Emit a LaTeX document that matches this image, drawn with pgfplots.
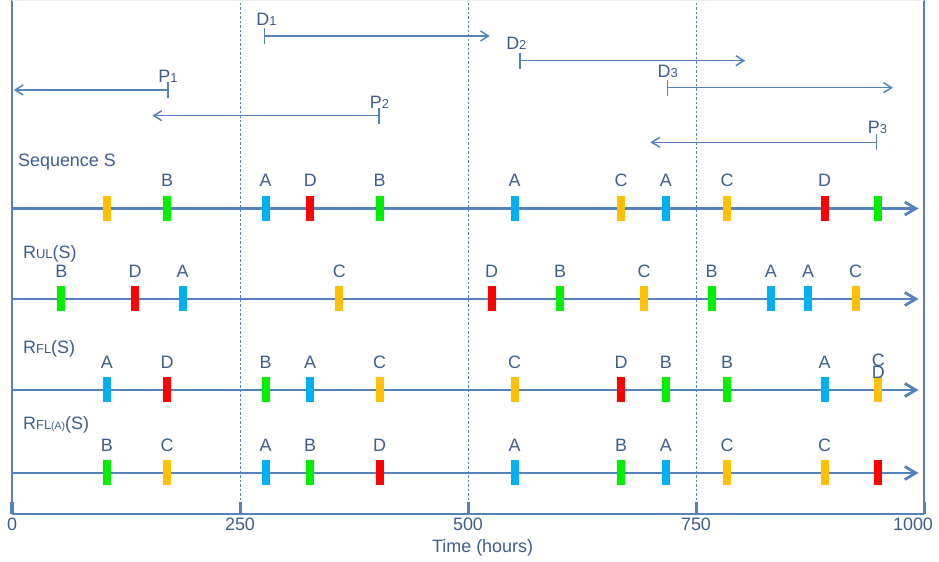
\documentclass[border=0pt]{standalone}
\usepackage{pgfplots}
\pgfplotsset{compat=1.18}
\usepackage{fontspec}
\setmainfont{Liberation Sans}
\usetikzlibrary{arrows.meta}
\definecolor{ln}{RGB}{84,130,190}
\definecolor{txt}{RGB}{62,92,140}
\definecolor{mA}{RGB}{0,176,240}
\definecolor{mB}{RGB}{0,240,0}
\definecolor{mC}{RGB}{255,192,0}
\definecolor{mD}{RGB}{255,0,0}
\newcommand{\fs}{\fontsize{18}{20}\selectfont}
\newcommand{\sm}{\fontsize{13}{14}\selectfont}
\newcommand{\ssm}{\fontsize{10.5}{12}\selectfont}
\tikzset{
  lab/.style={font=\fs, text=txt, anchor=base, inner sep=0pt},
  ttl/.style={font=\fs, text=txt, anchor=base west, inner sep=0pt},
}
\begin{document}
\begin{tikzpicture}
\useasboundingbox (0,0) rectangle (939bp,562bp);
\begin{axis}[
  at={(12bp,48bp)}, anchor=south west,
  scale only axis, width=912bp, height=514bp,
  xmin=0, xmax=1000, ymin=0, ymax=514,
  clip=false,
  axis x line*=bottom, axis y line*=box,
  axis line style={color=ln, line width=2.4bp},
  xtick={0,250,500,750,1000},
  xticklabels={0,250,500,750,\hspace*{-22bp}1000},
  ytick=\empty,
  tick align=inside, major tick length=12bp,
  xtick style={color=ln, line width=3bp},
  xmajorgrids, grid style={color=ln, line width=0.9bp, dash pattern=on 2.5bp off 2bp},
  xticklabel style={font=\fs, text=txt},
  /pgf/number format/assume math mode=true,
]
% faint top edge
\draw[color=ln!12, line width=1bp] (axis cs:0,513) -- (axis cs:1000,513);

% timelines
\addplot[color=ln, line width=2.8bp, -{Straight Barb[length=11bp,width=13bp]}] coordinates {(0,305.5) (994,305.5)};
\addplot[color=ln, line width=2.8bp, -{Straight Barb[length=11bp,width=13bp]}] coordinates {(0,215) (994,215)};
\addplot[color=ln, line width=2.8bp, -{Straight Barb[length=11bp,width=13bp]}] coordinates {(0,124) (994,124)};
\addplot[color=ln, line width=2.8bp, -{Straight Barb[length=11bp,width=13bp]}] coordinates {(0,41) (994,41)};

% event marks
\addplot[only marks, mark=|, mark size=12.5bp, color=mA, mark options={line width=8bp}] coordinates {
 (278,305.5) (551,305.5) (717,305.5)
 (187,215) (832,215) (873,215)
 (104,124) (327,124) (891,124)
 (278,41) (551,41) (717,41)};
\addplot[only marks, mark=|, mark size=12.5bp, color=mB, mark options={line width=8bp}] coordinates {
 (170,305.5) (403,305.5) (950,305.5)
 (54,215) (601,215) (767,215)
 (278,124) (717,124) (784,124)
 (104,41) (327,41) (668,41)};
\addplot[only marks, mark=|, mark size=12.5bp, color=mC, mark options={line width=8bp}] coordinates {
 (104,305.5) (668,305.5) (784,305.5)
 (359,215) (693,215) (925,215)
 (403,124) (551,124) (950,124)
 (170,41) (784,41) (891,41)};
\addplot[only marks, mark=|, mark size=12.5bp, color=mD, mark options={line width=8bp}] coordinates {
 (327,305.5) (891,305.5)
 (135,215) (526,215)
 (170,124) (668,124)
 (403,41) (950,41)};

% letter labels
\addplot[draw=none, mark=none, nodes near coords, point meta=explicit symbolic,
  nodes near coords style={font=\fs, text=txt, anchor=base, inner sep=0pt}]
 table[meta=l] {
x y l
170 327 B
278 327 A
327 327 D
403 327 B
551 327 A
668 327 C
717 327 A
784 327 C
891 327 D
54 236.5 B
135 236.5 D
187 236.5 A
359 236.5 C
526 236.5 D
601 236.5 B
693 236.5 C
767 236.5 B
832 236.5 A
873 236.5 A
925 236.5 C
104 145.5 A
170 145.5 D
278 145.5 B
327 145.5 A
403 145.5 C
551 145.5 C
668 145.5 D
717 145.5 B
784 145.5 B
891 145.5 A
950 147 C
950 135 D
104 62.5 B
170 62.5 C
278 62.5 A
327 62.5 B
403 62.5 D
551 62.5 A
668 62.5 B
717 62.5 A
784 62.5 C
891 62.5 C
};

% interval arrows
\addplot[color=ln, line width=1.5bp, {Bar[width=16bp]}-{Straight Barb[length=8bp,width=10bp]}] coordinates {(276,478) (524,478)};
\addplot[color=ln, line width=1.5bp, {Bar[width=16bp]}-{Straight Barb[length=8bp,width=10bp]}] coordinates {(556,453.3) (804,453.3)};
\addplot[color=ln, line width=1.5bp, {Bar[width=16bp]}-{Straight Barb[length=8bp,width=10bp]}] coordinates {(718,426.3) (966,426.3)};
\addplot[color=ln, line width=1.5bp, {Bar[width=16bp]}-{Straight Barb[length=8bp,width=10bp]}] coordinates {(172,424) (2,424)};
\addplot[color=ln, line width=1.5bp, {Bar[width=16bp]}-{Straight Barb[length=8bp,width=10bp]}] coordinates {(403,398.3) (154,398.3)};
\addplot[color=ln, line width=1.5bp, {Bar[width=16bp]}-{Straight Barb[length=8bp,width=10bp]}] coordinates {(949,371.7) (700,371.7)};

\node[lab] at (axis cs:279,488) {D{\sm 1}};
\node[lab] at (axis cs:553,464.5) {D{\sm 2}};
\node[lab] at (axis cs:719,436) {D{\sm 3}};
\node[lab] at (axis cs:171,431.5) {P{\sm 1}};
\node[lab] at (axis cs:403,405.5) {P{\sm 2}};
\node[lab] at (axis cs:949,380) {P{\sm 3}};

% row titles
\node[ttl] at (axis cs:6.5,347) {Sequence S};
\node[ttl] at (axis cs:12,255.7) {R{\sm UL}(S)};
\node[ttl] at (axis cs:12,160) {R{\sm FL}(S)};
\node[ttl] at (axis cs:12,84) {R{\sm FL}{\ssm (A)}(S)};

% axis title
\node[font=\fs, text=txt, anchor=base, inner sep=0pt] at (axis cs:516,-38.5) {Time (hours)};
\end{axis}
\end{tikzpicture}
\end{document}
